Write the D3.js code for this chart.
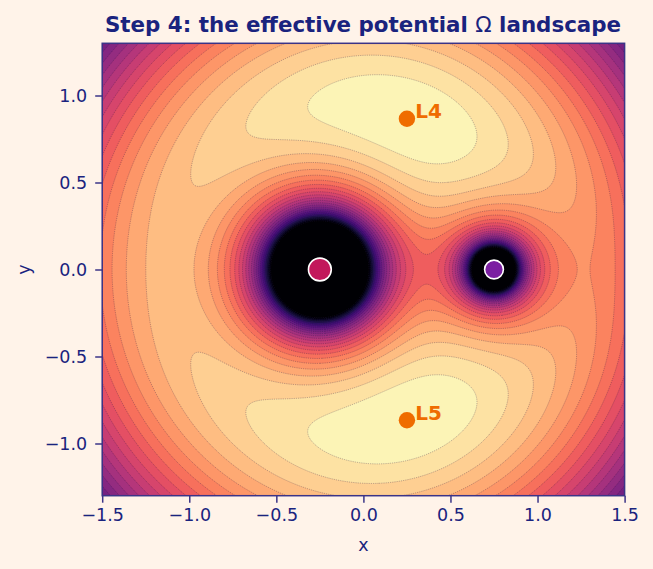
<!DOCTYPE html>
<html>
<head>
<meta charset="utf-8">
<script src="https://cdn.jsdelivr.net/npm/d3@7"></script>
<style>
  html, body { margin: 0; padding: 0; background: #fff3e9; }
  svg { display: block; font-family: "DejaVu Sans", sans-serif; }
</style>
</head>
<body>
<svg id="chart" width="653" height="569"></svg>
<script>
// Restricted three-body setup, in the co-rotating frame
const massRatio = 0.25;
const xDomain = [-1.5, 1.5];
const yDomain = [-1.3, 1.3];
const xTicks = [-1.5, -1.0, -0.5, 0.0, 0.5, 1.0, 1.5];
const yTicks = [-1.0, -0.5, 0.0, 0.5, 1.0];

// Filled contour levels of -Omega
const levelLow = -3.0;
const levelHigh = -1.4;
const levelCount = 25;

const bodies = [
  { x: -0.25, y: 0, fill: "#c2185b", r: 11.4 },
  { x: 0.75, y: 0, fill: "#7b1fa2", r: 9.4 }
];
const lagrangePoints = [
  { name: "L4", x: 0.25, y: 0.866 },
  { name: "L5", x: 0.25, y: -0.866 }
];

const ink = "#1a237e";
const spine = "#3b3487";
const accent = "#ef6c00";

const svg = d3.select("#chart");
const x = d3.scaleLinear().domain(xDomain).range([102.2, 624.6]);
const y = d3.scaleLinear().domain(yDomain).range([495.7, 43.3]);
const cols = Math.round(x.range()[1] - x.range()[0]) + 1;
const rows = Math.round(y.range()[0] - y.range()[1]) + 1;

// The effective potential is an analytic field, sampled once per pixel
function negOmega(px, py) {
  const r1 = Math.hypot(px + massRatio, py);
  const r2 = Math.hypot(px - (1 - massRatio), py);
  return -(0.5 * (px * px + py * py) + (1 - massRatio) / r1 + massRatio / r2);
}

const xAt = d3.scaleLinear().domain([0, cols - 1]).range(xDomain);
const yAt = d3.scaleLinear().domain([0, rows - 1]).range([yDomain[1], yDomain[0]]);
const field = new Float64Array(cols * rows);
for (let j = 0; j < rows; j++) {
  for (let i = 0; i < cols; i++) {
    field[j * cols + i] = Math.max(negOmega(xAt(i), yAt(j)), levelLow - 0.5);
  }
}

const levels = d3.range(levelCount + 1).map(k => levelLow + (levelHigh - levelLow) * k / levelCount);
const colorT = d3.scaleLinear().domain([levelLow, levelHigh]).range([0, 1]);
const contours = d3.contours().size([cols, rows]).smooth(true).thresholds(levels)(field);

const plot = svg.append("g");
const clipId = "plot-area";
svg.append("clipPath").attr("id", clipId).append("rect")
  .attr("x", x.range()[0]).attr("y", y.range()[1])
  .attr("width", x.range()[1] - x.range()[0]).attr("height", y.range()[0] - y.range()[1]);
plot.attr("clip-path", `url(#${clipId})`);

const toPlot = d3.geoTransform({
  point(px, py) { this.stream.point(x.range()[0] + px - 0.5, y.range()[1] + py - 0.5); }
});
const path = d3.geoPath(toPlot);

// Everything under the lowest level stays at the dark end of the map
plot.append("rect")
  .attr("x", x.range()[0]).attr("y", y.range()[1])
  .attr("width", x.range()[1] - x.range()[0]).attr("height", y.range()[0] - y.range()[1])
  .attr("fill", d3.interpolateMagma(0));

plot.selectAll("path.band").data(contours).join("path")
  .attr("class", "band")
  .attr("d", path)
  .attr("fill", (d, i) => {
    const top = i < levels.length - 1 ? levels[i + 1] : levelHigh;
    return d3.interpolateMagma(colorT((d.value + top) / 2));
  });

plot.selectAll("path.line").data(contours).join("path")
  .attr("class", "line")
  .attr("d", path)
  .attr("fill", "none")
  .attr("stroke", "#2a1a4a")
  .attr("stroke-opacity", 0.55)
  .attr("stroke-width", 0.55)
  .attr("stroke-dasharray", "1.2 1");

// Bodies and Lagrange markers
plot.selectAll("circle.body").data(bodies).join("circle")
  .attr("class", "body")
  .attr("cx", d => x(d.x)).attr("cy", d => y(d.y)).attr("r", d => d.r)
  .attr("fill", d => d.fill).attr("stroke", "#fff").attr("stroke-width", 1.6);

plot.selectAll("circle.lpoint").data(lagrangePoints).join("circle")
  .attr("class", "lpoint")
  .attr("cx", d => x(d.x)).attr("cy", d => y(d.y)).attr("r", 8.2)
  .attr("fill", accent);

plot.selectAll("text.lname").data(lagrangePoints).join("text")
  .attr("class", "lname")
  .attr("x", d => x(d.x) + 8.3).attr("y", d => y(d.y) - 0.5)
  .attr("font-family", "DejaVu Sans")
  .attr("font-size", 20).attr("font-weight", "bold").attr("fill", accent)
  .text(d => d.name);

// Axes
const tickText = v => d3.format(".1f")(v).replace("-", "\u2212");
const xAxis = svg.append("g").attr("transform", `translate(0,${y.range()[0]})`)
  .call(d3.axisBottom(x).tickValues(xTicks).tickFormat(tickText).tickSize(7).tickPadding(6));
const yAxis = svg.append("g").attr("transform", `translate(${x.range()[0]},0)`)
  .call(d3.axisLeft(y).tickValues(yTicks).tickFormat(tickText).tickSize(7).tickPadding(8));
[xAxis, yAxis].forEach(a => {
  a.attr("font-family", "DejaVu Sans").attr("font-size", 17.5);
  a.select(".domain").remove();
  a.selectAll("line").attr("stroke", spine).attr("stroke-width", 1.5);
  a.selectAll("text").attr("fill", ink);
});

svg.append("rect")
  .attr("x", x.range()[0]).attr("y", y.range()[1])
  .attr("width", x.range()[1] - x.range()[0]).attr("height", y.range()[0] - y.range()[1])
  .attr("fill", "none").attr("stroke", spine).attr("stroke-width", 1.5);

svg.append("text").attr("x", 363.5).attr("y", 551).attr("text-anchor", "middle")
  .attr("font-size", 17.5).attr("fill", ink).text("x");
svg.append("text").attr("transform", "translate(30,269.5) rotate(-90)").attr("text-anchor", "middle")
  .attr("font-size", 17.5).attr("fill", ink).text("y");
const title = svg.append("text").attr("x", 363).attr("y", 32).attr("text-anchor", "middle")
  .attr("font-size", 21.4).attr("font-weight", "bold").attr("fill", ink);
title.append("tspan").text("Step 4: the effective potential ");
title.append("tspan").attr("font-weight", "normal").text("\u03A9");
title.append("tspan").text(" landscape");
</script>
</body>
</html>
